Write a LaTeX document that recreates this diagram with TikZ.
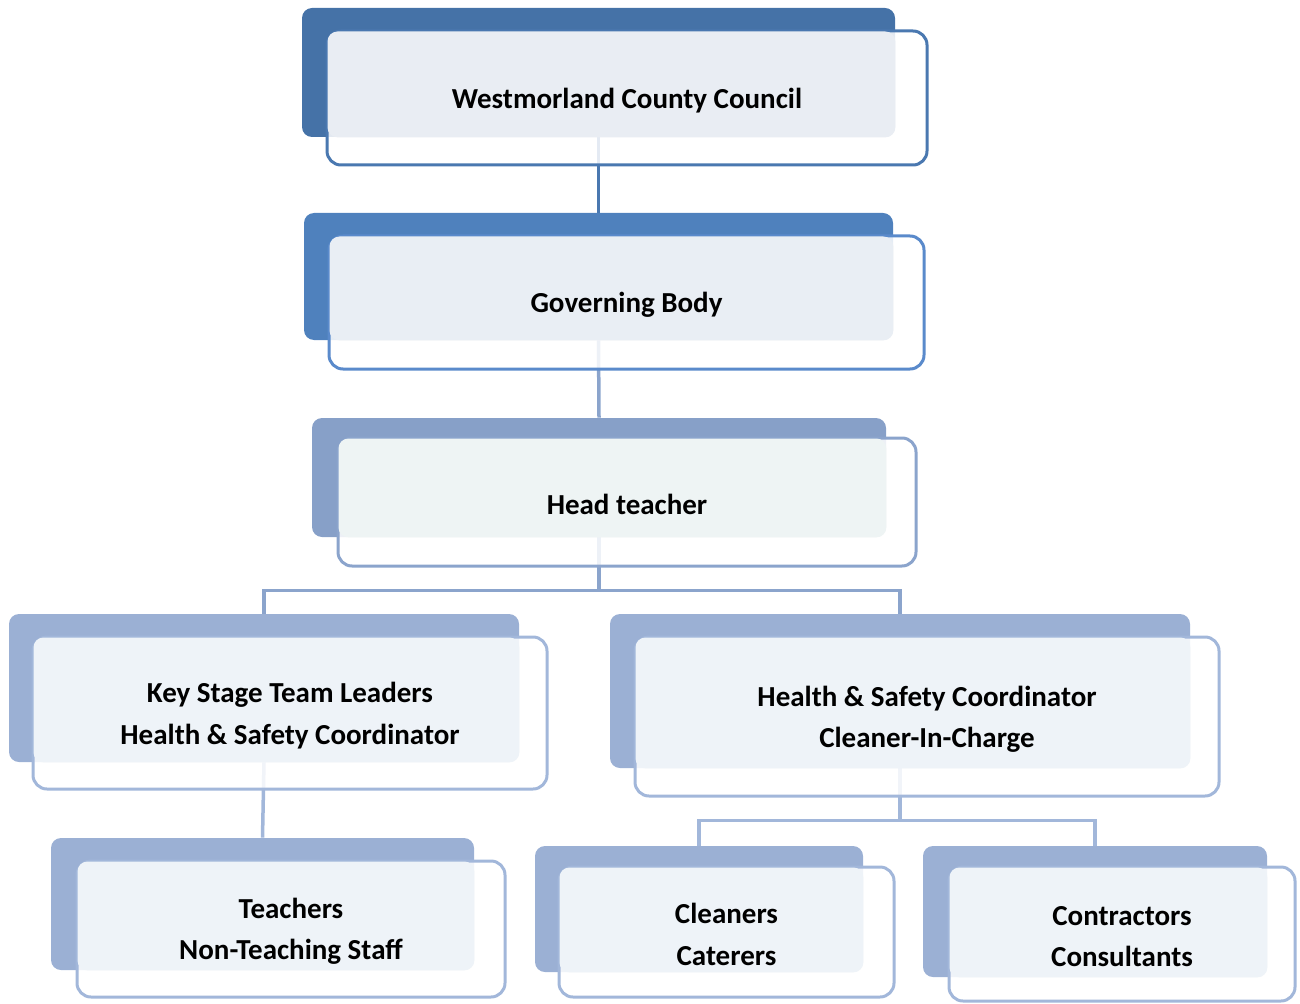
\documentclass[tikz,border=0pt]{standalone}
\usepackage{fontspec}
\setmainfont{Carlito}
\usetikzlibrary{fit,backgrounds}

\definecolor{lonebk}{HTML}{4572A7}
\definecolor{loneln}{HTML}{4A78B0}
\definecolor{lonelt}{HTML}{E9EDF3}
\definecolor{ltwobk}{HTML}{4F81BD}
\definecolor{ltwoln}{HTML}{5A8ACB}
\definecolor{ltwolt}{HTML}{E9EEF4}
\definecolor{lthreebk}{HTML}{87A0C8}
\definecolor{lthreeln}{HTML}{8BA4CC}
\definecolor{lthreelt}{HTML}{EEF4F4}
\definecolor{lfourbk}{HTML}{9BB0D4}
\definecolor{lfourln}{HTML}{A2B7DA}
\definecolor{lfourlt}{HTML}{EEF3F8}

\tikzset{
  backbox/.style = {fill=#1bk, rounded corners=0.2cm, inner sep=0pt},
  frontbox/.style = {draw=#1ln, fill=white, fill opacity=0.85, line width=0.06cm,
                     rounded corners=0.28cm, inner sep=0pt},
  boxtext/.style = {align=center, font=\bfseries\fontsize{16.5}{23.5}\selectfont},
  conn/.style = {line width=0.07cm}
}

% name, level, back corners, front corners, text
\newcommand{\orgbox}[5]{
  \node[backbox=#2, fit={#3}] (#1-b) {};
  \node[frontbox=#2, fit={#4}] (#1) {};
  \fill[#2lt, rounded corners=0.2cm] ([shift={(0.04cm,-0.04cm)}]#1.north west) rectangle (#1-b.south east);
  \node[boxtext] (#1-t) at ([yshift=-0.05cm]#1.center) {#5};
}

\begin{document}
\begin{tikzpicture}[x=0.02cm, y=-0.02cm]
  \useasboundingbox (0,0) rectangle (1300,1003);

  \orgbox{wcc}{lone}{(302,8) (895,137)}{(327,31) (927,165)}{Westmorland County Council}
  \orgbox{gov}{ltwo}{(304,213) (893,340)}{(329,236) (924,369)}{Governing Body}
  \orgbox{head}{lthree}{(312,418) (886,537)}{(338,438) (916,566)}{Head teacher}
  \orgbox{stage}{lfour}{(9,614) (519,762)}{(33,637) (547,789)}{Key Stage Team Leaders\\Health \& Safety Coordinator}
  \orgbox{safety}{lfour}{(610,614) (1190,768)}{(635,637) (1219,796)}{Health \& Safety Coordinator\\Cleaner-In-Charge}
  \orgbox{teach}{lfour}{(51,838) (474,970)}{(77,861) (505,997)}{Teachers\\Non-Teaching Staff}
  \orgbox{clean}{lfour}{(535,846) (863,972)}{(559,867) (894,997)}{Cleaners\\Caterers}
  \orgbox{contr}{lfour}{(923,846) (1267,977)}{(949,867) (1295,1001)}{Contractors\\Consultants}

  % connectors
  \begin{pgfonlayer}{background}
    \draw[conn, loneln] (wcc-b.south) -- (gov-b.north);
    \draw[conn, lthreeln] (gov-b.south) -- (head-b.north);
    \draw[conn, lthreeln] (head-b.south) -- ++(0,53) -| (stage-b.north);
    \draw[conn, lthreeln] (head-b.south) -- ++(0,53) -| (safety-b.north);
    \draw[conn, lfourln] (stage-b.south) -- (teach-b.north);
    \draw[conn, lfourln] (safety-b.south) -- ++(0,52) -| (clean-b.north);
    \draw[conn, lfourln] (safety-b.south) -- ++(0,52) -| (contr-b.north);
  \end{pgfonlayer}
\end{tikzpicture}
\end{document}
